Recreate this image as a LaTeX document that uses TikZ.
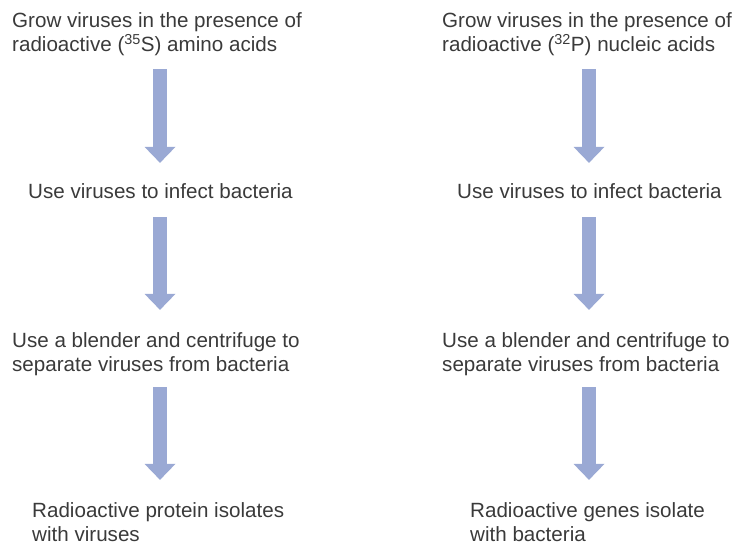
\documentclass[tikz,border=0pt]{standalone}
\usepackage{fontspec}
\setmainfont{Liberation Sans}
\usepackage{xcolor}
\usetikzlibrary{arrows.meta}

\definecolor{arrowblue}{RGB}{154,169,212}
\definecolor{textgray}{RGB}{58,58,58}

\tikzset{
  lbl/.style={anchor=base west, inner sep=0pt, align=left, text=textgray,
    font=\fontsize{20.6bp}{24bp}\selectfont},
  flow/.style={draw=arrowblue, line width=14bp,
    -{Triangle[width=31bp,length=16bp,line width=0pt]}},
}

\begin{document}
\begin{tikzpicture}[x=1bp, y=-1bp]

\useasboundingbox (0,0) rectangle (733,544);

\coordinate (col35) at (160,0);
\coordinate (col32) at (589,0);

% sulfur (protein) run
\node[lbl] (grow35) at (12,52) {Grow viruses in the presence of\\radioactive (\textsuperscript{35}S) amino acids};
\node[lbl] (infect35) at (28,199) {Use viruses to infect bacteria};
\node[lbl] (blend35) at (12,371) {Use a blender and centrifuge to\\separate viruses from bacteria};
\node[lbl] (result35) at (32,541) {Radioactive protein isolates\\with viruses};

% phosphorus (DNA) run
\node[lbl] (grow32) at (442,52) {Grow viruses in the presence of\\radioactive (\textsuperscript{32}P) nucleic acids};
\node[lbl] (infect32) at (457,199) {Use viruses to infect bacteria};
\node[lbl] (blend32) at (442,371) {Use a blender and centrifuge to\\separate viruses from bacteria};
\node[lbl] (result32) at (470,541) {Radioactive genes isolate\\with bacteria};

\draw[flow, shorten <=12.6bp, shorten >=21bp] (grow35.south -| col35) -- (infect35.north -| col35);
\draw[flow, shorten <=17.7bp, shorten >=22bp] (infect35.south -| col35) -- (blend35.north -| col35);
\draw[flow, shorten <=11.7bp, shorten >=22bp] (blend35.south -| col35) -- (result35.north -| col35);

\draw[flow, shorten <=12.6bp, shorten >=21bp] (grow32.south -| col32) -- (infect32.north -| col32);
\draw[flow, shorten <=17.7bp, shorten >=22bp] (infect32.south -| col32) -- (blend32.north -| col32);
\draw[flow, shorten <=11.7bp, shorten >=22bp] (blend32.south -| col32) -- (result32.north -| col32);

\end{tikzpicture}
\end{document}
